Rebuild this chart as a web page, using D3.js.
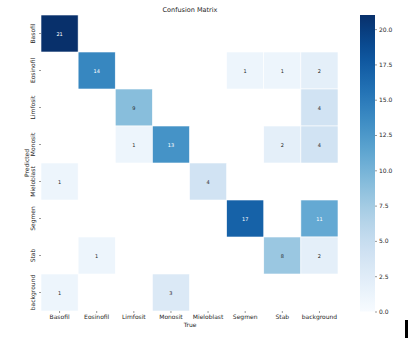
<!DOCTYPE html>
<html><head><meta charset="utf-8">
<script src="https://cdn.jsdelivr.net/npm/d3@7"></script>
<style>body{margin:0;background:#fff;}svg{display:block;font-family:"DejaVu Sans",sans-serif;}</style>
</head><body>
<svg id="c" width="408" height="343"></svg>
<script>
const labels = ["Basofil","Eosinofil","Limfosit","Monosit","Mieloblast","Segmen","Stab","background"];
// rows = Predicted, columns = True
const matrix = [
  [21,0,0,0,0,0,0,0],
  [0,14,0,0,0,1,1,2],
  [0,0,9,0,0,0,0,4],
  [0,0,1,13,0,0,2,4],
  [1,0,0,0,4,0,0,0],
  [0,0,0,0,0,17,0,11],
  [0,1,0,0,0,0,8,2],
  [1,0,0,3,0,0,0,0]
];
const cbTicks = [0,2.5,5,7.5,10,12.5,15,17.5,20];
const vmax = 21;

const svg = d3.select("#c");
svg.append("rect").attr("width",408).attr("height",343).attr("fill","#fff");
const L=41, T=15, W=297, H=296;
const x = d3.scaleBand().domain(labels).range([L,L+W]);
const y = d3.scaleBand().domain(labels).range([T,T+H]);
const color = v => d3.interpolateBlues(v/vmax);

const cells = [];
matrix.forEach((row,i)=>row.forEach((v,j)=>cells.push({r:labels[i],c:labels[j],v})));
const g = svg.append("g");
g.selectAll("rect").data(cells.filter(d=>d.v>0)).join("rect")
  .attr("x",d=>x(d.c)).attr("y",d=>y(d.r))
  .attr("width",x.bandwidth()).attr("height",y.bandwidth())
  .attr("fill",d=>color(d.v)).attr("stroke","#fff").attr("stroke-width",0.6);
function lum(c){const o=d3.rgb(c);const f=u=>{u/=255;return u<=0.03928?u/12.92:Math.pow((u+0.055)/1.055,2.4);};return 0.2126*f(o.r)+0.7152*f(o.g)+0.0722*f(o.b);}
g.selectAll("text").data(cells.filter(d=>d.v>0)).join("text")
  .attr("x",d=>x(d.c)+x.bandwidth()/2).attr("y",d=>y(d.r)+y.bandwidth()/2)
  .attr("text-anchor","middle").attr("dominant-baseline","central")
  .attr("font-size",5).attr("fill",d=>lum(color(d.v))<0.408?"#fff":"#262626")
  .text(d=>d.v);

// x axis
const xa = svg.append("g").attr("transform",`translate(0,${T+H})`)
  .call(d3.axisBottom(x).tickSize(2).tickPadding(2));
xa.select(".domain").remove();
xa.selectAll("line").attr("stroke","#333").attr("stroke-width",0.5);
xa.selectAll("text").attr("font-size",6).attr("fill","#262626").attr("font-family","DejaVu Sans");
// y axis
const ya = svg.append("g").attr("transform",`translate(${L},0)`)
  .call(d3.axisLeft(y).tickSize(2).tickPadding(2));
ya.select(".domain").remove();
ya.selectAll("line").attr("stroke","#333").attr("stroke-width",0.5);
ya.selectAll("text").attr("font-size",6).attr("fill","#262626").attr("font-family","DejaVu Sans")
  .attr("text-anchor","middle").attr("dy",0)
  .attr("transform",function(){return `translate(-6,0) rotate(-90)`;})
  .attr("x",0).attr("y",0);
ya.selectAll(".tick text").attr("transform","translate(-6,0) rotate(-90)");

svg.append("text").attr("x",190).attr("y",12).attr("text-anchor","middle")
  .attr("font-size",6.5).attr("fill","#262626").text("Confusion Matrix");
svg.append("text").attr("x",190).attr("y",327).attr("text-anchor","middle")
  .attr("font-size",6).attr("fill","#262626").text("True");
svg.append("text").attr("transform","translate(29,163) rotate(-90)").attr("text-anchor","middle")
  .attr("font-size",6).attr("fill","#262626").text("Predicted");

// colorbar
const cbX=360, cbW=15, cbT=T, cbB=T+H+0.5;
const defs=svg.append("defs");
const grad=defs.append("linearGradient").attr("id","cb").attr("x1",0).attr("y1",1).attr("x2",0).attr("y2",0);
d3.range(0,1.0001,0.05).forEach(t=>grad.append("stop").attr("offset",t).attr("stop-color",d3.interpolateBlues(t)));
svg.append("rect").attr("x",cbX).attr("y",cbT).attr("width",cbW).attr("height",cbB-cbT).attr("fill","url(#cb)");
const cy = d3.scaleLinear().domain([0,vmax]).range([cbB,cbT]);
const ca = svg.append("g").attr("transform",`translate(${cbX+cbW},0)`)
  .call(d3.axisRight(cy).tickValues(cbTicks).tickFormat(d3.format(".1f")).tickSize(2).tickPadding(2));
ca.select(".domain").remove();
ca.selectAll("line").attr("stroke","#333").attr("stroke-width",0.5);
ca.selectAll("text").attr("font-size",6).attr("fill","#262626").attr("font-family","DejaVu Sans");

// black marker at bottom right
svg.append("rect").attr("x",405).attr("y",320).attr("width",3).attr("height",18).attr("fill","#000");
</script>
</body></html>
